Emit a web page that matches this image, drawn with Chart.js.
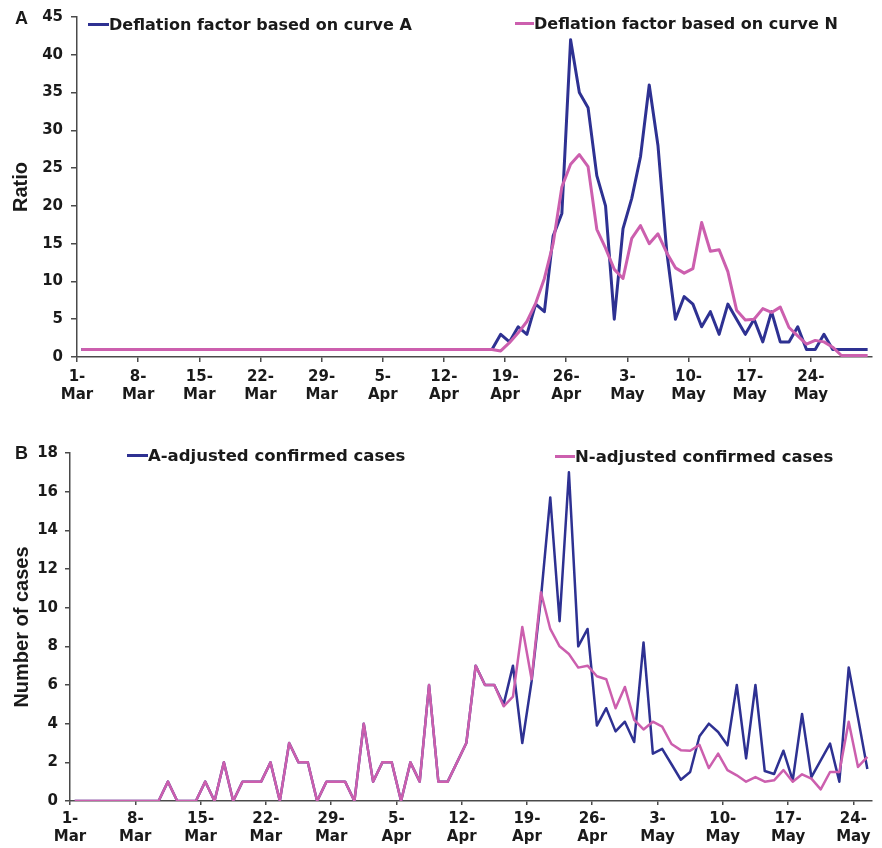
<!DOCTYPE html>
<html><head><meta charset="utf-8">
<script src="https://cdn.jsdelivr.net/npm/chart.js@4.4.0/dist/chart.umd.min.js"></script>
<style>
html,body{margin:0;padding:0;background:#fff;}
#wrap{position:relative;width:882px;height:848px;overflow:hidden;background:#fff;}
canvas{position:absolute;left:0;}
.lab{position:absolute;font-family:"Liberation Sans",Arial,sans-serif;font-weight:bold;font-size:18px;color:#1a1a1a;line-height:20px;}
.leg{position:absolute;display:flex;align-items:center;height:20px;font-family:"DejaVu Sans",Verdana,sans-serif;font-weight:bold;color:#1a1a1a;white-space:nowrap;}
.leg i{display:inline-block;height:3px;}
</style></head><body>
<div id="wrap">
<canvas id="cA" width="882" height="420" style="top:0"></canvas>
<canvas id="cB" width="882" height="418" style="top:430px"></canvas>
<div class="lab" style="left:15px;top:8px">A</div>
<div class="lab" style="left:15px;top:443px">B</div>
</div>
<script>
// ---------- DATA ----------
const monthNames = ['Mar', 'Apr', 'May'];
const monthDays = [31, 30, 31];
const panelADays = 91;   // 1-Mar .. 30-May
const panelBDays = 86;   // 1-Mar .. 25-May

const seriesNamesA = ['Deflation factor based on curve A', 'Deflation factor based on curve N'];
const seriesNamesB = ['A-adjusted confirmed cases', 'N-adjusted confirmed cases'];

const ratioCurveA = [
  1,1,1,1,1,1,1,1,1,1, 1,1,1,1,1,1,1,1,1,1,
  1,1,1,1,1,1,1,1,1,1, 1,1,1,1,1,1,1,1,1,1,
  1,1,1,1,1,1,1,1,
  3,2,4,3,7,6,16,19,42,35,
  33,24,20,5,17,21,26.5,36,28,14,
  5,8,7,4,6,3,7,5,3,5,
  2,6,2,2,4,1,1,3,1,1,
  1,1,1
];
const ratioCurveN = [
  1,1,1,1,1,1,1,1,1,1, 1,1,1,1,1,1,1,1,1,1,
  1,1,1,1,1,1,1,1,1,1, 1,1,1,1,1,1,1,1,1,1,
  1,1,1,1,1,1,1,1,
  0.8,1.9,3.2,4.7,7.1,10.4,15,22.5,25.5,26.8,
  25.2,16.9,14.4,11.6,10.4,15.7,17.4,15.0,16.3,13.8,
  11.8,11.1,11.7,17.8,14.0,14.2,11.3,6.2,4.9,5.0,
  6.4,5.9,6.6,3.9,2.8,1.7,2.2,2.0,1.3,0.2,
  0.2,0.2,0.2
];

const casesA = [
  0,0,0,0,0,0,0,0,0,0,
  1,0,0,0,1,0,2,0,1,1,
  1,2,0,3,2,2,0,1,1,1,
  0,4,1,2,2,0,2,1,6,1,
  1,2,3,7,6,6,
  5,7,3,6.2,10.5,15.7,9.3,17.0,8.0,8.9,
  3.9,4.8,3.6,4.1,3.05,8.2,2.45,2.7,1.9,1.1,
  1.5,3.35,4.0,3.57,2.88,6.0,2.2,6.0,1.55,1.4,
  2.6,1.07,4.5,1.24,2.1,2.97,1.0,6.9,4.3,1.66
];
const casesN = [
  0,0,0,0,0,0,0,0,0,0,
  1,0,0,0,1,0,2,0,1,1,
  1,2,0,3,2,2,0,1,1,1,
  0,4,1,2,2,0,2,1,6,1,
  1,2,3,7,6,6,
  4.9,5.4,9.0,6.3,10.8,8.9,8.0,7.6,6.9,7.0,
  6.45,6.3,4.8,5.9,4.2,3.7,4.1,3.85,2.95,2.63,
  2.6,2.9,1.7,2.45,1.6,1.33,1.0,1.24,1.0,1.07,
  1.6,1.0,1.38,1.16,0.6,1.5,1.5,4.1,1.76,2.28
];

// ---------- STYLE ----------
const BLUE = '#2e3192';
const PINK = '#cc5fae';
const AXIS = '#4a4a4a';
const TXT = '#1a1a1a';
const tickFont = {family: "'DejaVu Sans', Verdana, sans-serif", weight: 'bold', size: 15};
const titleFont = {family: "'Liberation Sans', Arial, sans-serif", weight: 'bold', size: 20};

function dateLabels(n) {
  const out = [];
  let m = 0, d = 1;
  for (let i = 0; i < n; i++) {
    out.push(d + '-' + monthNames[m]);
    d++;
    if (d > monthDays[m]) { d = 1; m++; }
  }
  return out;
}

function makeChart(id, labels, names, dataBlue, dataPink, opt) {
  const ctx = document.getElementById(id);
  return new Chart(ctx, {
    type: 'line',
    data: {
      labels: labels,
      datasets: [
        {label: names[0], data: dataBlue, borderColor: BLUE, borderWidth: opt.lw, pointRadius: 0, tension: 0, order: 1, borderJoinStyle: 'round', fill: false},
        {label: names[1], data: dataPink, borderColor: PINK, borderWidth: opt.lw, pointRadius: 0, tension: 0, order: 0, borderJoinStyle: 'round', fill: false}
      ]
    },
    options: {
      responsive: false,
      animation: false,
      devicePixelRatio: 1,
      layout: {padding: {top: opt.padTop, right: 10, left: 0, bottom: 0}},
      plugins: {legend: {display: false}, tooltip: {enabled: false}},
      scales: {
        x: {
          type: 'category',
          offset: true,
          afterFit: s => { s.height = opt.xH; },
          grid: {
            offset: true, drawOnChartArea: false, drawTicks: true, tickLength: opt.xTick,
            lineWidth: 1.5,
            color: c => (c.index % 7 === 0 && c.index <= 84) ? AXIS : 'rgba(0,0,0,0)'
          },
          border: {display: true, color: AXIS, width: 1.5},
          ticks: {
            autoSkip: false, maxRotation: 0, minRotation: 0,
            padding: opt.xPad, labelOffset: opt.labelOffset,
            color: TXT, font: tickFont,
            callback: function (v, i) {
              if (i % 7 !== 0) return '';
              const l = this.getLabelForValue(v);
              const k = l.indexOf('-');
              return [l.slice(0, k + 1), l.slice(k + 1)];
            }
          }
        },
        y: {
          min: 0, max: opt.yMax,
          afterFit: s => { s.width = opt.yW; },
          grid: {drawOnChartArea: false, drawTicks: true, tickLength: opt.yTick, color: AXIS, lineWidth: 1.5},
          border: {display: true, color: AXIS, width: 1.5},
          ticks: {stepSize: opt.yStep, padding: opt.yPad, color: TXT, font: tickFont},
          title: {display: true, text: opt.yTitle, color: TXT, font: titleFont, padding: {top: opt.titlePad, bottom: 0}}
        }
      }
    }
  });
}

makeChart('cA', dateLabels(panelADays), seriesNamesA, ratioCurveA, ratioCurveN, {
  lw: 3, padTop: 17, xH: 63, yW: 77, xTick: 5, xPad: 6, yTick: 6, yPad: 8,
  labelOffset: -4.37, yMax: 45, yStep: 5, yTitle: 'Ratio', titlePad: 9
});
makeChart('cB', dateLabels(panelBDays), seriesNamesB, casesA, casesN, {
  lw: 2.5, padTop: 23, xH: 47, yW: 70, xTick: 4, xPad: 5, yTick: 5, yPad: 7,
  labelOffset: -4.66, yMax: 18, yStep: 2, yTitle: 'Number of cases', titlePad: 10
});

// ---------- HTML legends (real text) ----------
const wrap = document.getElementById('wrap');
function addLegend(text, color, x, yc, lineW, fs) {
  const d = document.createElement('div');
  d.className = 'leg';
  d.style.left = x + 'px';
  d.style.top = (yc - 10) + 'px';
  d.style.fontSize = fs + 'px';
  const i = document.createElement('i');
  i.style.width = lineW + 'px';
  i.style.background = color;
  const s = document.createElement('span');
  s.textContent = text;
  d.appendChild(i); d.appendChild(s);
  wrap.appendChild(d);
}
addLegend(seriesNamesA[0], BLUE, 88, 24, 21, 16);
addLegend(seriesNamesA[1], PINK, 515, 23, 19, 16);
addLegend(seriesNamesB[0], BLUE, 127, 455, 21, 16.5);
addLegend(seriesNamesB[1], PINK, 555, 456, 20, 16.5);
</script>
</body></html>
